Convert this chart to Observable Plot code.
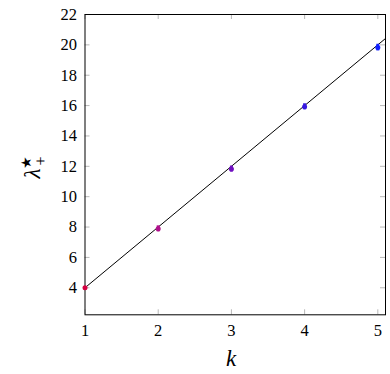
<!DOCTYPE html>
<html>
<head>
<meta charset="utf-8">
<script src="https://cdn.jsdelivr.net/npm/d3@7"></script>
<script src="https://cdn.jsdelivr.net/npm/@observablehq/plot@0.6"></script>
<style>
  html, body { margin: 0; padding: 0; background: #fff; }
  #chart { width: 390px; height: 374px; }
</style>
</head>
<body>
<div id="chart"></div>
<script>
const kValues = [1, 2, 3, 4, 5];
const lambdaValues = [4.0, 7.88, 11.82, 15.92, 19.82];
const lambdaErr = [0.05, 0.2, 0.2, 0.2, 0.22];
const pointColors = ["#d40040", "#b0108c", "#7010c0", "#3818e0", "#1020ff"];
const xTicks = [1, 2, 3, 4, 5];
const yTicks = [4, 6, 8, 10, 12, 14, 16, 18, 20, 22];
const fitSlope = 4;
const fitRange = [1, 5.105];

const points = kValues.map((k, i) => ({
  k, lambda: lambdaValues[i], lo: lambdaValues[i] - lambdaErr[i], hi: lambdaValues[i] + lambdaErr[i], color: pointColors[i]
}));
const fitLine = fitRange.map(k => ({k, lambda: fitSlope * k}));

const serif = "Liberation Serif";
const tickColor = "#b8b8b8";
const W = 390, H = 374, mL = 84.5, mR = 5, mT = 14, mB = 59.7;
const frameW = W - mL - mR, frameH = H - mT - mB, tl = 5;

const plot = Plot.plot({
  width: W,
  height: H,
  marginLeft: mL,
  marginRight: mR,
  marginTop: mT,
  marginBottom: mB,
  style: {fontSize: "16.5px", color: "#000", background: "#fff"},
  x: {domain: [1, 5.105], label: null},
  y: {domain: [2.22, 22], label: null},
  marks: [
    Plot.axisX(xTicks, {anchor: "bottom", tickSize: 0, tickPadding: 9, fill: "#000", fontSize: 16.5, fontFamily: serif, label: null}),
    Plot.axisY(yTicks, {anchor: "left", tickSize: 0, tickPadding: 8, fill: "#000", fontSize: 16.5, fontFamily: serif, label: null}),
    Plot.tickX(xTicks, {x: d => d, insetTop: frameH - tl, stroke: tickColor}),
    Plot.tickX(xTicks, {x: d => d, insetBottom: frameH - tl, stroke: tickColor}),
    Plot.tickY(yTicks, {y: d => d, insetRight: frameW - tl, stroke: tickColor}),
    Plot.tickY(yTicks, {y: d => d, insetLeft: frameW - tl, stroke: tickColor}),
    Plot.frame({stroke: "#000", strokeWidth: 1}),
    Plot.line(fitLine, {x: "k", y: "lambda", stroke: "#000", strokeWidth: 1}),
    Plot.ruleX(points, {x: "k", y1: "lo", y2: "hi", stroke: "color", strokeWidth: 3}),
    Plot.dot(points, {x: "k", y: "lambda", r: 2.5, fill: "color", stroke: null})
  ]
});

document.getElementById("chart").appendChild(plot);

const svg = d3.select(plot);
svg.append("text")
  .attr("x", 231).attr("y", 366)
  .attr("text-anchor", "middle")
  .attr("font-family", serif)
  .attr("font-size", 23).attr("font-style", "italic")
  .text("k");
const yl = svg.append("text")
  .attr("transform", "translate(40,167) rotate(-90)")
  .attr("text-anchor", "middle")
  .attr("font-family", serif)
  .attr("font-size", 23);
yl.append("tspan").attr("font-style", "italic").text("λ");
yl.append("tspan").attr("dy", "-9").attr("font-size", 14).text("★");
yl.append("tspan").attr("dx", "-10").attr("dy", "15").attr("font-size", 16).text("+");
</script>
</body>
</html>
